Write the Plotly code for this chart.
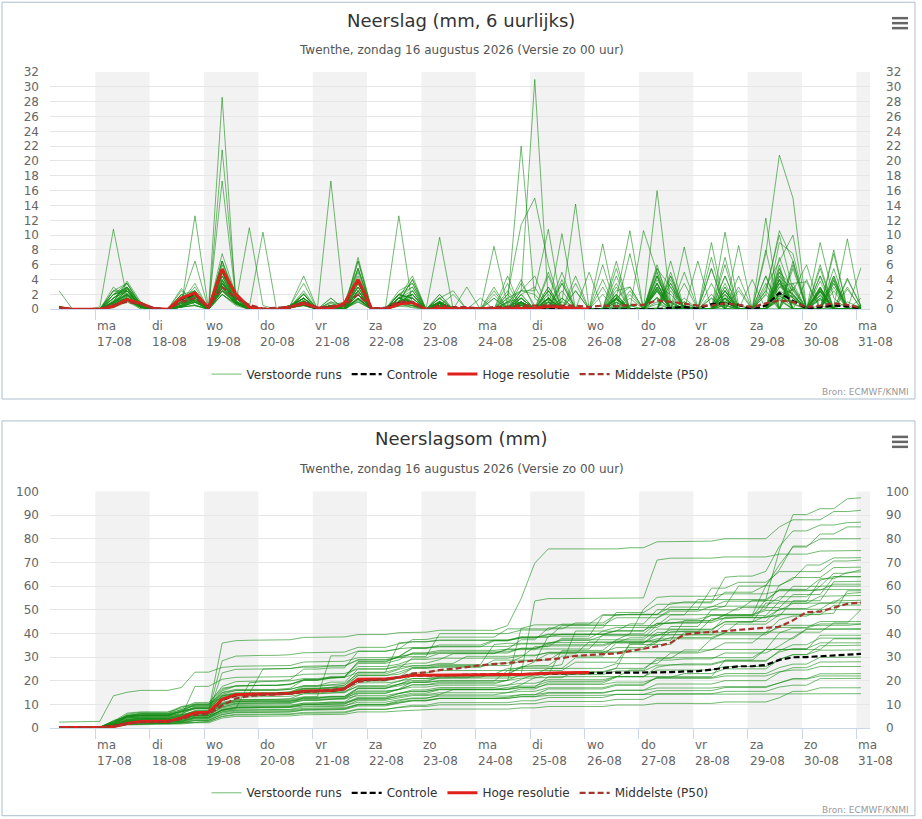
import numpy as np
import pandas as pd
import plotly.graph_objects as go

# ---------------- data ----------------
times = pd.date_range("2026-08-16 08:00", periods=60, freq="6h")
day_starts = pd.date_range("2026-08-17", "2026-08-31", freq="D")
day_names = ["ma", "di", "wo", "do", "vr", "za", "zo", "ma", "di", "wo", "do", "vr", "za", "zo", "ma"]
day_dates = ["17-08", "18-08", "19-08", "20-08", "21-08", "22-08", "23-08", "24-08",
             "25-08", "26-08", "27-08", "28-08", "29-08", "30-08", "31-08"]
shaded_days = ["2026-08-17", "2026-08-19", "2026-08-21", "2026-08-23",
               "2026-08-25", "2026-08-27", "2026-08-29", "2026-08-31"]
x_start = "2026-08-16 04:00"
x_end = "2026-08-31 06:00"

# 6-hourly precipitation (mm) of the perturbed ensemble members
verstoorde_6h = [
    [0.3,0,0, 0,0.5,2.8,0.3, 0,0,0.5,2.0, 0,4.5,1.0,0.2, 0,0,0.3,2.2, 0,0.2,0.3,4.0, 0,0,0.5,2.5, 0,0.3,0,0, 0,0,0,3.5, 0.5,0,4.0,0, 0,0,5.5,0, 0,4.5,0,0.5, 0,0,6.0,0, 0,7.5,20.8,15.0, 0,2.5,0,4.2, 0.4],
    [0.3,0,0, 0,1.0,3.5,0.5, 0,0,0.3,1.5, 0.2,28.6,1.0,0.2, 0,0,0.2,1.0, 0,0,0.2,1.0, 0,0,0.8,0.2, 0,0.8,0,0, 0,0,2.0,11.4, 15.0,6.0,0,0, 0,0,0,0.5, 0,2.5,0,0.3, 0,0,1.0,0, 0,0,5.0,3.0, 0,0,3.5,0, 0.5],
    [0.2,0,0, 0,3.0,1.5,0, 0,0,1.0,3.5, 0,6.5,2.0,0.3, 0,0,0.3,2.0, 0,1.5,0,5.5, 0,0,1.5,3.0, 0,1.0,0,0, 0,0,0.5,4.0, 0,5.0,0,0, 0,0,6.5,0, 0,3.5,0,1.0, 0,0,10.4,0.5, 0,2.0,10.6,6.5, 0,2.5,0,1.0, 0.2],
    [0.3,0,0, 0,1.0,3.8,1.0, 0,0,2.8,0.5, 0,4.5,1.0,0, 0,0,0.5,1.5, 0,0,0.5,3.0, 0,0,1.0,4.0, 0,0.5,0,0, 0,1.5,0,2.5, 4.5,0,3.5,0, 0,3.0,0,0, 0,5.5,3.0,0, 0,2.0,0,8.6, 0,0,9.0,7.5, 0,5.5,0,3.0, 0],
    [0.4,0,0, 0,2.0,3.0,0.8, 0,0,1.5,2.5, 0,2.5,1.5,0.3, 10.4,0,0.3,0.5, 0,0.5,0,2.5, 0,0,1.0,0.5, 0,9.7,0,0, 0,0,0,1.5, 0,0,2.5,0, 0,4.0,0,0, 0,0,5.0,0, 0,0,4.5,0, 0,3.0,6.5,10.0, 0,3.0,0,0, 0.1],
    [0.3,0,0, 0,0.8,2.0,0.3, 0,0,0.5,2.0, 0,4.0,1.0,0, 0,0,0.3,1.5, 0,0.5,0,2.5, 0,0,0.5,2.0, 0,0.5,0,0, 0,0,1.5,2.5, 31.0,1.0,0,0, 0,0,0.3,0, 0,16.0,0.8,0, 0,0,0.5,0, 0,0,1.2,0, 0,1.3,0,0, 0.2],
    [0.3,0,0, 0,2.5,3.5,0.5, 0,0,1.5,2.5, 0,6.0,1.0,0.2, 0,0,0.5,2.0, 0,0.5,0.5,4.5, 0,0,1.0,2.0, 0,0.5,0,0, 0,0,0,1.0, 0,1.5,0,0, 0,0,2.0,0, 0,3.0,0,8.4, 0,0,2.5,0, 0,2.5,10.0,2.5, 6.0,0,3.0,0, 0.1],
    [0.2,0,0, 0,0.5,1.8,0.5, 0,0,0.5,2.0, 0,3.5,1.0,0, 0,0,0.3,1.5, 0,0.5,0,3.0, 0,0,1.0,2.0, 0,1.0,0,0, 0,0,0.8,22.0, 1.5,0,0,0, 0,0,3.0,0, 0,0,3.5,0, 0,9.0,0,2.5, 0,0,4.5,0, 0,0,4.5,0, 0.4],
    [0.3,0,0, 0,1.5,2.5,0.2, 0,0,0.5,12.6, 0,3.0,0.8,0, 0,0,0.3,1.0, 0,0.3,0,2.0, 0,0,0.8,0.5, 0,0.5,0,0, 0,8.5,0.5,0, 0,0,1.5,0, 0,0,0,2.5, 0,4.5,0,0, 0,3.5,0,0, 0,12.3,0,3.5, 0,0,4.2,0, 0.2],
    [0.1,0,0, 0,0.5,1.5,0.3, 0,0,0.3,1.8, 0,3.5,1.0,0, 0,0,0.3,1.2, 0,0.5,0,3.5, 0,0,2.0,3.0, 0,2.0,0,0, 0,1.5,0,2.5, 2.5,10.8,0,0, 0,8.8,0,0.5, 0,0,3.0,0, 0,0,2.5,0, 0,0,5.0,0, 0,4.5,0,2.7, 0.2],
    [0.3,0,0, 0,2.0,2.5,0.5, 0,0,2.0,1.0, 0,5.0,1.0,0.2, 0,0,0.3,1.5, 0,0.5,0,3.0, 0,0,1.5,2.0, 0,1.0,0,0, 0,0,0,1.5, 0,0,1.0,14.2, 0,0,1.5,0, 0,0,3.5,0, 0,1.5,0,0, 0,0,6.0,0, 0,9.0,1.5,0, 0],
    [0.2,0,0, 0,0.3,1.5,0.5, 0,0,0.3,1.3, 0,3.5,1.0,0, 0,0,0.2,1.0, 0,0.3,0,2.5, 0,0,2.0,1.5, 0,1.0,0,0, 0,0,1.0,2.5, 2.0,0,10.2,0, 0,0,4.5,0, 0,4.5,0,0, 0,0,3.0,0, 0,2.5,0,6.5, 0,0,8.0,0, 0.2],
    [0.3,0,0, 0,1.0,2.0,0.3, 0,0,0.5,1.2, 0,2.0,0.8,11.0, 0.5,0,0.3,1.0, 0,0.5,0,2.0, 0,0,12.6,0.5, 0,0.5,0,0, 0,0,0,1.0, 0,1.5,0,0, 0,0,1.5,3.0, 0,6.0,0,0, 0,0,1.5,0, 0,0,4.0,0, 0,4.5,0,0, 0],
    [0.3,0,0, 0,1.5,3.0,0.8, 0,0,1.5,1.5, 0,5.0,1.0,0, 0,0,0.5,1.5, 0,0.5,1.0,5.5, 0,0,1.5,4.5, 0,2.0,0,0, 0,0,1.5,0, 0,3.0,0,0, 0,0,0,2.0, 0,5.5,1.0,0, 0,0,2.0,0, 0,0,1.5,0, 0,0,0.4,9.5, 0],
    [0.3,0,0, 0,1.0,2.5,0.3, 0,0,1.5,1.3, 0,21.5,2.0,0.3, 0,0,0.3,0.8, 0,0.3,0,2.0, 0,0,1.5,0.8, 0,0.8,0,0, 0,0,0,1.0, 0,1.5,0,0, 0,0,1.5,0, 0,3.0,0,1.0, 0,0,2.5,0, 0,2.0,0,3.0, 0,3.0,0,0, 0.3],
    [0.3,0,0, 0,2.0,2.5,0.5, 0,0,2.0,2.5, 0,6.5,1.5,0.3, 0,0,0.5,1.5, 0,1.0,0.5,6.5, 0,0,2.0,3.5, 0,1.5,0,0, 0,2.0,0,1.5, 0,0,1.0,0, 0,0,0,0, 10.6,5.0,0.5,0, 0,0,1.0,0, 0,0,1.3,0, 0,0.5,0,0, 0],
    [0.2,0,0, 0,0.5,2.0,0.5, 0,0,1.0,1.8, 0,17.3,1.5,0, 0,0,0.3,1.0, 0,0.3,0,2.5, 0,0,1.0,1.5, 0,0.8,0,0, 0,0,0,1.5, 0,1.5,0,0, 0,0,1.5,0, 0,0,4.0,0, 0,5.5,0,0.5, 0,0,3.5,0, 0,0,3.5,0, 0.3],
    [0.3,0,0, 0,1.0,2.0,0.8, 0,0,1.0,1.8, 0,3.5,1.5,0, 0,0,0.3,1.0, 0,17.3,0,2.0, 0,0,1.0,0.5, 0,0.5,0,0, 0,0,0,1.0, 0,0,1.5,0, 0,2.0,0,0, 0,0,2.5,0, 0,0,3.5,0, 0,0,5.5,0, 0,2.3,0,0, 0.2],
    [0.2,0,0, 0,0.5,1.5,0.3, 0,0,0.5,1.5, 0,3.0,1.2,0, 0,0,0.3,1.0, 0,0.5,0,2.5, 0,0,1.5,1.0, 0,0.8,0,0, 0,0,0,2.0, 3.0,0,0,2.5, 0,0,1.5,10.6, 0,3.5,0,0, 0,0,4.5,0, 0,0,4.0,0, 0,0,3.9,0, 0.2],
    [0.1,0,0, 0,0.3,1.2,0.3, 0,0,0.3,1.0, 0,2.5,1.0,0, 0,0,0.2,0.8, 0,0.3,0,2.0, 0,0,1.5,1.0, 0,1.5,0,0, 0,0,1.0,1.5, 0,2.5,0,0, 0,0,2.5,3.0, 0,5.0,0,3.5, 0,0,3.0,0, 0,4.5,0,0, 0,0,3.9,0, 5.6],
    [0.3,0,0, 0,2.5,2.5,0.5, 0,0,2.0,1.5, 0,5.0,1.5,0.2, 0,0,0.3,1.5, 0,0.5,0.5,4.0, 0,0,2.0,1.5, 0,1.0,0,3.0, 0,0,0,0.5, 0,1.0,0,0, 0,0,0,1.5, 0,3.0,2.0,0, 0,0,2.0,0, 0,0,5.5,1.5, 0,2.7,0,0, 0],
    [0.3,0,0, 0,1.5,3.0,0.3, 0,0,1.0,2.0, 0,4.0,1.0,0, 0,0,0.3,1.0, 0,0.5,0,3.0, 0,0,2.0,1.0, 0,0.8,0,0, 0,0,0,1.0, 0,2.5,0,0, 0,0,2.0,0, 0,0,4.5,0, 0,1.5,0,0, 0,0,7.0,2.0, 0,1.8,0,0, 0],
    [0.2,0,0, 0,1.0,2.0,0.3, 0,0,1.0,1.5, 0,3.5,1.0,0, 0,0,0.3,0.8, 0,0.5,0.5,4.0, 0,0,2.0,1.5, 0,1.0,0,0, 0,0,0,0.8, 0,1.5,0,0, 0,0,1.8,0, 0,3.5,0,0.5, 0,0,2.5,0, 0,0,3.0,3.5, 3.7,0,0,0, 0.1],
    [2.5,0,0, 0.3,10.8,1.5,0.8, 0,0,1.2,6.5, 0,2.0,0.5,0, 0,0,0.3,1.5, 0,0.3,0,1.5, 0,0,0.5,1.0, 0,0.5,0,0, 0,0,0,2.0, 0,1.0,0,0, 0,0,1.5,0, 0,1.5,0,0, 0,0,2.5,0, 0,0,2.3,0, 0,2.5,0,0, 0],
    [0.3,0,0, 0,0.8,1.5,0.3, 0,0,0.3,1.5, 0,3.0,1.0,0, 0,0,0.2,1.0, 0,0.3,0,2.0, 0,0,1.5,1.0, 0,1.5,0,0, 0,0,1.0,0.5, 0,2.0,0,0, 0,0,2.0,0, 0,4.0,1.0,0, 0,0,1.5,0, 0,0,4.5,2.5, 0,2.8,0,0, 0],
    [0.3,0,0, 0,2.0,2.8,0.3, 0,0,1.5,1.5, 0,4.5,1.0,0, 0,0,0.3,1.0, 0,0.3,0,2.0, 0,0,1.0,0.8, 0,0.8,0,0, 0,0,0,1.0, 0,1.5,0,0, 0,0,1.5,0, 0,2.5,0,0.5, 0,0,1.5,0, 0,0,3.5,1.5, 0,2.4,0,0, 0],
    [0.1,0,0, 0,0.3,1.2,0.3, 0,0,0.3,1.0, 0,2.5,0.8,0, 0,0,0.2,0.8, 0,0.3,0,1.5, 0,0,1.2,1.0, 0,1.0,0,0, 0,0,0.5,1.0, 0,2.5,0,0, 0,0,1.5,0, 0,3.5,0,1.5, 0,0,2.0,0, 0,0,4.0,2.0, 0,3.8,0,0, 0.2],
    [0.3,0,0, 0,1.0,2.5,0.3, 0,0,0.8,1.5, 0,3.8,1.0,0, 0,0,0.3,1.0, 0,0.3,0,2.0, 0,0,1.5,1.0, 0,0.8,0,0, 0,0,0,0.8, 0,1.5,0,0, 0,0,1.3,0, 0,2.8,0,0, 0,0,1.5,0, 0,0,3.0,2.0, 0,1.9,0,0, 0.1],
    [0.2,0,0, 0,0.8,2.0,0.3, 0,0,0.5,1.5, 0,3.2,1.0,0, 0,0,0.2,0.8, 0,0.3,0,1.5, 0,0,1.0,0.8, 0,0.8,0,0, 0,0,0,0.6, 0,1.5,0,0, 0,0,1.5,0, 0,2.8,0,0, 0,0,1.7,0, 0,0,2.5,1.5, 0,2.9,0,0, 0.1],
    [0.1,0,0, 0,0.3,1.5,0.3, 0,0,0.3,1.0, 0,2.8,0.8,0, 0,0,0.2,0.6, 0,0.3,0,1.5, 0,0,1.0,0.8, 0,1.0,0,0, 0,0,0,0.8, 0,1.4,0,0, 0,0,1.3,0, 0,2.6,0,0, 0,0,1.4,0, 0,0,3.5,2.0, 0,2.4,0,0, 0.1],
    [0.3,0,0, 0,1.5,2.5,0.3, 0,0,0.8,1.2, 0,3.8,0.8,0, 0,0,0.2,0.6, 0,0.3,0,1.4, 0,0,1.0,0.8, 0,1.0,0,0, 0,0,0,0.6, 0,1.3,0,0, 0,0,1.0,0, 0,1.6,0,0, 0,0,1.0,0, 0,0,1.8,0.7, 0,1.5,0,0, 0],
    [0.1,0,0, 0,0.3,1.2,0.3, 0,0,0.3,0.6, 0,2.0,0.7,0, 0,0,0.2,0.5, 0,0.2,0,1.4, 0,0,1.0,0.8, 0,1.1,0,0, 0,0,0,0.8, 0,1.4,0,0, 0,0,1.3,0, 0,1.6,0,0, 0,0,1.3,0, 0,0,2.0,1.8, 0,2.0,0,0, 0.1],
    [0.2,0,0, 0,1.0,1.5,0.3, 0,0,0.8,1.0, 0,2.8,0.7,0.2, 0,0,0.2,0.6, 0,0.2,0,1.4, 0,0,1.0,0.8, 0,0.8,0,0, 0,0,0,0.6, 0,0.9,0,0, 0,0,0.9,0, 0,1.0,0,0, 0,0,0.6,0, 0,0,1.5,1.7, 0,1.3,0,0, 0],
    [0.1,0,0, 0,0.3,1.1,0.3, 0,0,0.3,0.5, 0,2.4,0.8,0, 0,0,0.2,0.6, 0,0.2,0,1.2, 0,0,0.6,0.5, 0,0.7,0,0, 0,0,0,0.5, 0,0.9,0,0, 0,0,0.9,0, 0,2.4,0,0, 0,0,1.0,0, 0,0,1.8,0.8, 0,2.8,0,0, 0.1],
    [0.1,0,0, 0,0.2,1.0,0.1, 0,0,0.3,0.5, 0,2.0,0.7,0, 0,0,0.2,0.5, 0,0.2,0,1.0, 0,0,0.4,0.3, 0,0.5,0,0, 0,0,0,0.5, 0,0.6,0,0, 0,0,0.6,0, 0,0.7,0,0, 0,0,0.6,0, 0,0,1.8,2.7, 0,1.5,0,0, 0],
    [0.2,0,0, 0,0.8,1.5,0.3, 0,0,0.5,0.9, 0,2.5,0.8,0, 0,0,0.2,0.6, 0,0.3,0,1.4, 0,0,1.0,0.8, 0,0.8,0,0, 0,0,0,0.6, 0,0.6,0,0, 0,0,0.4,0, 0,0.2,0,0, 0,0,0.1,0, 0,0,0,0, 0,0,0,0, 0],
    [0.3,0,0, 0,1.2,2.8,0.5, 0,0,1.8,1.5, 0,5.5,1.0,0.2, 0,0,0.3,2.5, 0,0.5,0,4.0, 0,0,1.5,2.0, 0,0.8,0,0, 0,0,0,2.0, 0,3.0,0,0, 5.0,0,0,0, 0,0,6.5,0, 0,7.0,0,0, 4.0,0,0,6.0, 0,0,5.5,0, 1.5],
    [0.2,0,0, 0,0.8,2.0,0.3, 0,0,0.5,2.2, 0,4.0,1.5,0, 0,0,0.3,1.2, 0,0.3,0,3.5, 0,0,1.0,1.5, 0,0.5,0,0, 0,0,4.5,0, 0,0,0,3.5, 0,0,0,7.5, 0,0,0,5.0, 0,0,0,4.5, 0,8.0,0,0, 0,0,0,4.0, 0.5],
    [0.3,0,0, 0,1.5,3.0,0.5, 0,0,1.5,1.8, 0,6.5,1.2,0, 0,0,0.5,3.5, 0,1.0,0,6.5, 0,0,2.5,3.5, 0,0.5,0,0, 0,2.5,0,1.5, 0,0,5.0,0, 0,0,0,0, 0,0,4.5,0, 6.5,0,0,0, 0,0,4.0,0, 0,0,2.5,0, 0],
    [0.1,0,0, 0,0.5,1.5,0.3, 0,0,0.3,1.2, 0,3.0,0.8,0, 0,0,0.2,1.0, 0,0.3,0,2.5, 0,0,1.0,1.0, 0,0.5,2.0,0, 0,0,0,1.0, 0,4.5,0,0, 0,0,0,0, 0,0,0,0, 0,0,7.0,0, 0,4.5,0,0, 0,6.0,0,0, 0],
    [0.3,0,0, 0,2.0,3.5,0.8, 0,0,2.5,1.0, 0,7.5,2.0,0.3, 0,0,0.5,4.5, 0,0.5,0,7.0, 0,0,1.0,4.0, 0,1.0,0,0, 0,0,3.5,0, 0,0,0,2.5, 0,0,3.5,0, 0,0,0,0, 0,0,0,3.0, 0,0,0,5.5, 0,0,7.5,0, 0],
    [0.2,0,0, 0,1.0,2.2,0.5, 0,0,1.0,2.5, 0,4.5,2.5,0, 0,0,0.3,2.0, 0,0.5,0,5.0, 0,0,0.5,2.5, 0,0.5,0,0, 0,3.0,0,0, 0,0,3.5,0, 0,0,0,0, 0,0,0,0, 0,5.5,0,0, 0,0,0,0, 4.0,0,0,0, 0],
    [0.4,0,0, 0,2.5,2.0,1.0, 0,0,1.0,3.0, 0,5.0,1.0,0, 0,0,0.5,1.5, 0,1.5,0,5.5, 0,0,1.5,1.0, 0,1.5,2.5,0, 0,0,2.0,0, 0,0,0,0, 0,6.0,0,0, 0,0,0,0, 0,0,0,0, 0,0,4.0,0, 0,0,0,0, 0.5],
    [0.2,0,0, 0,0.5,1.8,0.5, 0,0,0.8,1.5, 0,3.5,1.5,0, 0,0,0.3,2.0, 0,0.8,0,3.5, 0,0,1.5,2.5, 0,0.3,0,0, 1.5,0,2.5,0, 0,0,0,4.5, 0,0,0,0, 0,0,0,0, 0,0,0,0, 0,3.5,0,0, 0,0,4.5,0, 0],
]

# Controle run, 6-hourly (mm)
controle_6h = [0.2,0,0, 0,0.5,1.2,0.8, 0.1,0,1.4,2.1, 0.2,5.3,2.0,0.4, 0,0.1,0.3,0.8,
               0.1,0.2,0.7,3.9, 0.1,0.1,0.8,0.9, 0,0.1,0.1,0.1, 0,0.1,0.1,0.1,
               0.1,0.2,0.2,0.1, 0,0,0,0, 0,0,0.2,0.3, 0.1,0.7,0.8,0.6,
               0,0.5,2.2,1.1, 0.1,0.3,0.5,0.4, 0.1]
# Hoge resolutie run (10 days), 6-hourly (mm)
hoge_res_6h = [0.2,0,0, 0,0.4,1.3,0.8, 0.1,0,1.5,2.2, 0.2,5.4,2.0,0.3, 0,0,0.3,0.8,
               0.2,0.1,0.8,4.0, 0.1,0,0.7,0.9, 0,0.1,0.1,0, 0,0,0.1,0,
               0.1,0.4,0.3,0.1, 0]
# Middelste (P50), 6-hourly (mm)
p50_6h = [0.2,0,0, 0,0.6,1.0,0.7, 0.1,0,1.0,1.5, 0.3,3.0,1.5,0.6, 0.1,0.2,0.3,1.0,
          0.2,0.4,0.5,2.0, 0.1,0.2,1.0,1.0, 0,0.5,0.3,0.3, 0.1,0.3,0.3,0.5,
          0.5,0.5,0.4,0.5, 0.3,0.5,0.4,0.6, 0.6,1.2,1.0,0.8, 0.5,0.5,0.8,0.6,
          0.3,0.8,1.2,1.0, 0.3,0.5,0.8,0.6, 0.2]
# Middelste (P50) of the accumulated sum (mm)
p50_som = [0.2,0.2,0.2, 0.2,0.8,1.8,2.4, 2.5,2.6,3.8,5.5, 6.0,9.5,12.5,13.5,
           14.0,14.2,14.5,15.2, 15.5,16.0,16.8,19.5, 20.3,20.6,21.5,23.0,
           23.5,24.5,25.0,25.8, 26.5,27.0,27.5,28.0, 28.5,29.0,29.5,30.5,
           31.0,31.2,31.5,32.5, 33.5,34.5,36.0,39.5, 40.2,40.5,41.0,41.5,
           42.0,42.2,42.8,45.5, 49.0,49.2,51.0,52.5, 53.0]

for m in verstoorde_6h:
    assert len(m) == len(times), len(m)

# ---------------- layout helpers ----------------
W, H = 922, 819
ML, MR, MT, MB = 50, 52, 72, 89
PW, PH = W - ML - MR, H - MT - MB


def px(xp):
    return (xp - ML) / PW


def py(yp):
    return (H - MB - yp) / PH


FONT = "DejaVu Sans"
GREEN = "rgba(20,140,20,0.6)"
RED = "#e0201b"
BROWN = "#a5342c"

fig = go.Figure()

panels = [
    dict(xa="x", ya="y", legend="legend", data6=True),
    dict(xa="x2", ya="y2", legend="legend2", data6=False),
]

for pnl in panels:
    for i, m in enumerate(verstoorde_6h):
        vals = m if pnl["data6"] else np.cumsum(m)
        fig.add_trace(go.Scatter(
            x=times, y=vals, mode="lines", xaxis=pnl["xa"], yaxis=pnl["ya"],
            line=dict(color=GREEN, width=1), name="Verstoorde runs",
            legendgroup="ens" + pnl["legend"], showlegend=(i == 0),
            legend=pnl["legend"], hoverinfo="skip"))
    c = controle_6h if pnl["data6"] else np.cumsum(controle_6h)
    fig.add_trace(go.Scatter(x=times, y=c, mode="lines", xaxis=pnl["xa"], yaxis=pnl["ya"],
                             line=dict(color="black", width=2.2, dash="6px,3px"),
                             name="Controle", legend=pnl["legend"]))
    h = hoge_res_6h if pnl["data6"] else np.cumsum(hoge_res_6h)
    fig.add_trace(go.Scatter(x=times[:len(hoge_res_6h)], y=h, mode="lines",
                             xaxis=pnl["xa"], yaxis=pnl["ya"],
                             line=dict(color=RED, width=3),
                             name="Hoge resolutie", legend=pnl["legend"]))
    p = p50_6h if pnl["data6"] else p50_som
    fig.add_trace(go.Scatter(x=times, y=p, mode="lines", xaxis=pnl["xa"], yaxis=pnl["ya"],
                             line=dict(color=BROWN, width=2.2, dash="6px,3px"),
                             name="Middelste (P50)", legend=pnl["legend"]))

# hidden traces so the mirrored right axes are drawn
fig.add_trace(go.Scatter(x=[None], y=[None], xaxis="x", yaxis="y3", showlegend=False))
fig.add_trace(go.Scatter(x=[None], y=[None], xaxis="x2", yaxis="y4", showlegend=False))

top_dom = [py(310), py(72)]
bot_dom = [py(730), py(492.7)]

xcommon = dict(type="date", range=[x_start, x_end], showgrid=False, zeroline=False,
               showline=True, linecolor="#ccd6eb", linewidth=1,
               tickvals=day_starts, ticks="outside", ticklen=10, tickcolor="#ccd6eb",
               showticklabels=False, fixedrange=True)
ycommon = dict(zeroline=False, showline=False,
               tickfont=dict(family=FONT, size=12, color="#666666"),
               ticks="", fixedrange=True)

fig.update_layout(
    width=W, height=H, margin=dict(l=ML, r=MR, t=MT, b=MB),
    paper_bgcolor="white", plot_bgcolor="rgba(0,0,0,0)",
    font=dict(family=FONT, size=12, color="#333333"),
    xaxis=dict(**xcommon, domain=[0, 1], anchor="y"),
    xaxis2=dict(**xcommon, domain=[0, 1], anchor="y2"),
    yaxis=dict(**ycommon, showgrid=True, gridcolor="#e6e6e6", domain=top_dom, range=[0, 32],
               tickvals=list(range(0, 33, 2)), anchor="x", ticklabelstandoff=10),
    yaxis3=dict(**ycommon, showgrid=False, overlaying="y", side="right", range=[0, 32],
                tickvals=list(range(0, 33, 2)), anchor="x", ticklabelstandoff=15),
    yaxis2=dict(**ycommon, showgrid=True, gridcolor="#e6e6e6", domain=bot_dom, range=[0, 100],
                tickvals=list(range(0, 101, 10)), anchor="x2", ticklabelstandoff=10),
    yaxis4=dict(**ycommon, showgrid=False, overlaying="y2", side="right", range=[0, 100],
                tickvals=list(range(0, 101, 10)), anchor="x2", ticklabelstandoff=15),
    legend=dict(orientation="h", x=0.5, xanchor="center", y=py(375), yanchor="middle",
                font=dict(family=FONT, size=12, color="#333333"), itemwidth=30,
                bgcolor="rgba(0,0,0,0)"),
    legend2=dict(orientation="h", x=0.5, xanchor="center", y=py(795), yanchor="middle",
                 font=dict(family=FONT, size=12, color="#333333"), itemwidth=30,
                 bgcolor="rgba(0,0,0,0)"),
    showlegend=True,
)

shapes = []
annots = []
# chart boxes
for (y0, y1) in [(2, 400), (422, 818)]:
    shapes.append(dict(type="rect", xref="paper", yref="paper", x0=px(2), x1=px(915),
                       y0=py(y1), y1=py(y0), line=dict(color="#a9bfcf", width=1),
                       fillcolor="rgba(0,0,0,0)", layer="below"))
# alternating day bands
for xref, yref in [("x", "y domain"), ("x2", "y2 domain")]:
    for d in shaded_days:
        d0 = pd.Timestamp(d)
        d1 = min(d0 + pd.Timedelta(days=1), pd.Timestamp(x_end))
        shapes.append(dict(type="rect", xref=xref, yref=yref, x0=d0, x1=d1, y0=0, y1=1,
                           fillcolor="#f2f2f2", line=dict(width=0), layer="below"))
# menu icons
for top in [18, 438]:
    for k in range(3):
        yy = top + 5 * k
        shapes.append(dict(type="line", xref="paper", yref="paper", x0=px(892), x1=px(908),
                           y0=py(yy), y1=py(yy), line=dict(color="#666666", width=2.5)))

titles = [("Neerslag (mm, 6 uurlijks)", 20, 50, 318, 393, "x"),
          ("Neerslagsom (mm)", 440, 470, 738, 812, "x2")]
for title, ty, sy, ly, by, xr in titles:
    annots.append(dict(text=title, xref="paper", yref="paper", x=px(461), y=py(ty),
                       xanchor="center", yanchor="middle", showarrow=False,
                       font=dict(family=FONT, size=18, color="#333333")))
    annots.append(dict(text="Twenthe, zondag 16 augustus 2026 (Versie zo 00 uur)",
                       xref="paper", yref="paper", x=px(461), y=py(sy),
                       xanchor="center", yanchor="middle", showarrow=False,
                       font=dict(family=FONT, size=12, color="#555555")))
    for dn, dd, ds in zip(day_names, day_dates, day_starts):
        annots.append(dict(text=dn + "<br>" + dd, xref=xr, yref="paper", x=ds,
                           y=py(ly), xanchor="left", yanchor="top", align="left",
                           showarrow=False,
                           font=dict(family=FONT, size=12, color="#666666")))
    annots.append(dict(text="Bron: ECMWF/KNMI", xref="paper", yref="paper", x=px(911),
                       y=py(by), xanchor="right", yanchor="middle", showarrow=False,
                       font=dict(family=FONT, size=9, color="#999999")))

fig.update_layout(shapes=shapes, annotations=annots)
fig.write_html("out.html", config={"displayModeBar": False},
               post_script="document.body.style.margin='0';document.body.style.overflow='hidden';")
